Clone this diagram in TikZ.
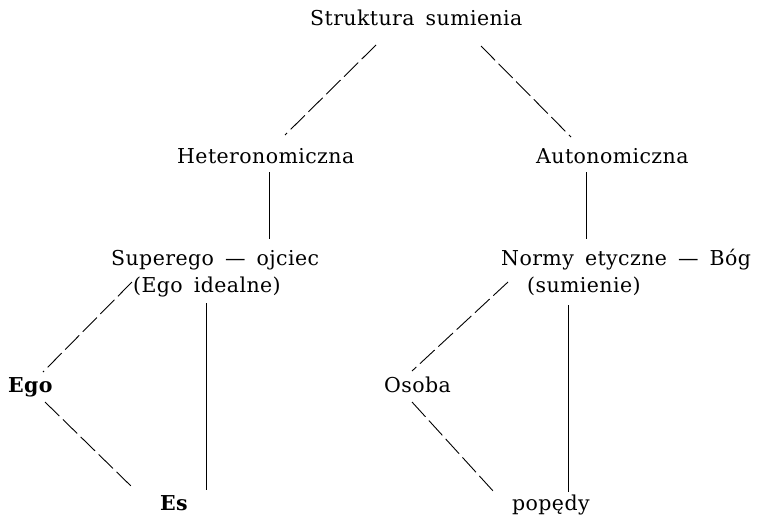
\documentclass[tikz,border=0pt]{standalone}
\usepackage{fontspec}
\setmainfont{DejaVu Serif}[LetterSpace=2,WordSpace=1.6]
\usepackage{tikz}
\usetikzlibrary{calc}

\begin{document}
\begin{tikzpicture}[
  x=1pt,y=-1pt,
  lbl/.style={inner sep=0pt,anchor=base west,font=\fontsize{20.5}{26.5}\selectfont},
  bold/.style={lbl,font=\fontsize{20.5}{26.5}\selectfont\bfseries},
  link/.style={line width=0.9pt},
  dlink/.style={link,dash pattern=on 20pt off 5pt},
]
  \useasboundingbox (0,0) rectangle (757,517);
  % levels
  \node[lbl] (top) at (310,25) {Struktura sumienia};
  \node[lbl] (het) at (177,163) {Heteronomiczna};
  \node[lbl] (aut) at (536,163) {Autonomiczna};
  \node[lbl,align=left] (sup) at (111,292) {Superego --- ojciec\\\hspace*{22pt}(Ego idealne)};
  \node[lbl,align=left] (nor) at (501,292) {Normy etyczne --- Bóg\\\hspace*{26pt}(sumienie)};
  \node[bold] (ego) at (8,392) {Ego};
  \node[lbl] (osoba) at (384,392) {Osoba};
  \node[bold] (es) at (160,510) {Es};
  \node[lbl] (pop) at (512,510) {popędy};
  % connectors
  \draw[dlink] ($(top.base west)+(66,20)$) -- ($(het.base west)+(108,-28)$);
  \draw[dlink] ($(top.base west)+(171,21)$) -- ($(aut.base west)+(35,-26)$);
  \draw[link] ($(het.base west)+(92.5,9)$) -- ($(sup.base west)+(158.5,-53)$);
  \draw[link] ($(aut.base west)+(50.5,9)$) -- ($(nor.base west)+(85.5,-53)$);
  \draw[dlink] ($(sup.base west)+(21,-10)$) -- ($(ego.base west)+(35,-20)$);
  \draw[dlink] ($(ego.base west)+(37,10)$) -- ($(es.base west)+(-28,-23)$);
  \draw[link] ($(sup.base west)+(95,11)$) -- ($(es.base west)+(46,-20)$);
  \draw[dlink] ($(nor.base west)+(7,-10)$) -- ($(osoba.base west)+(28,-21)$);
  \draw[dlink] ($(osoba.base west)+(28,10)$) -- ($(pop.base west)+(-18,-18)$);
  \draw[link] ($(nor.base west)+(67,13)$) -- ($(pop.base west)+(56,-18)$);
\end{tikzpicture}
\end{document}
